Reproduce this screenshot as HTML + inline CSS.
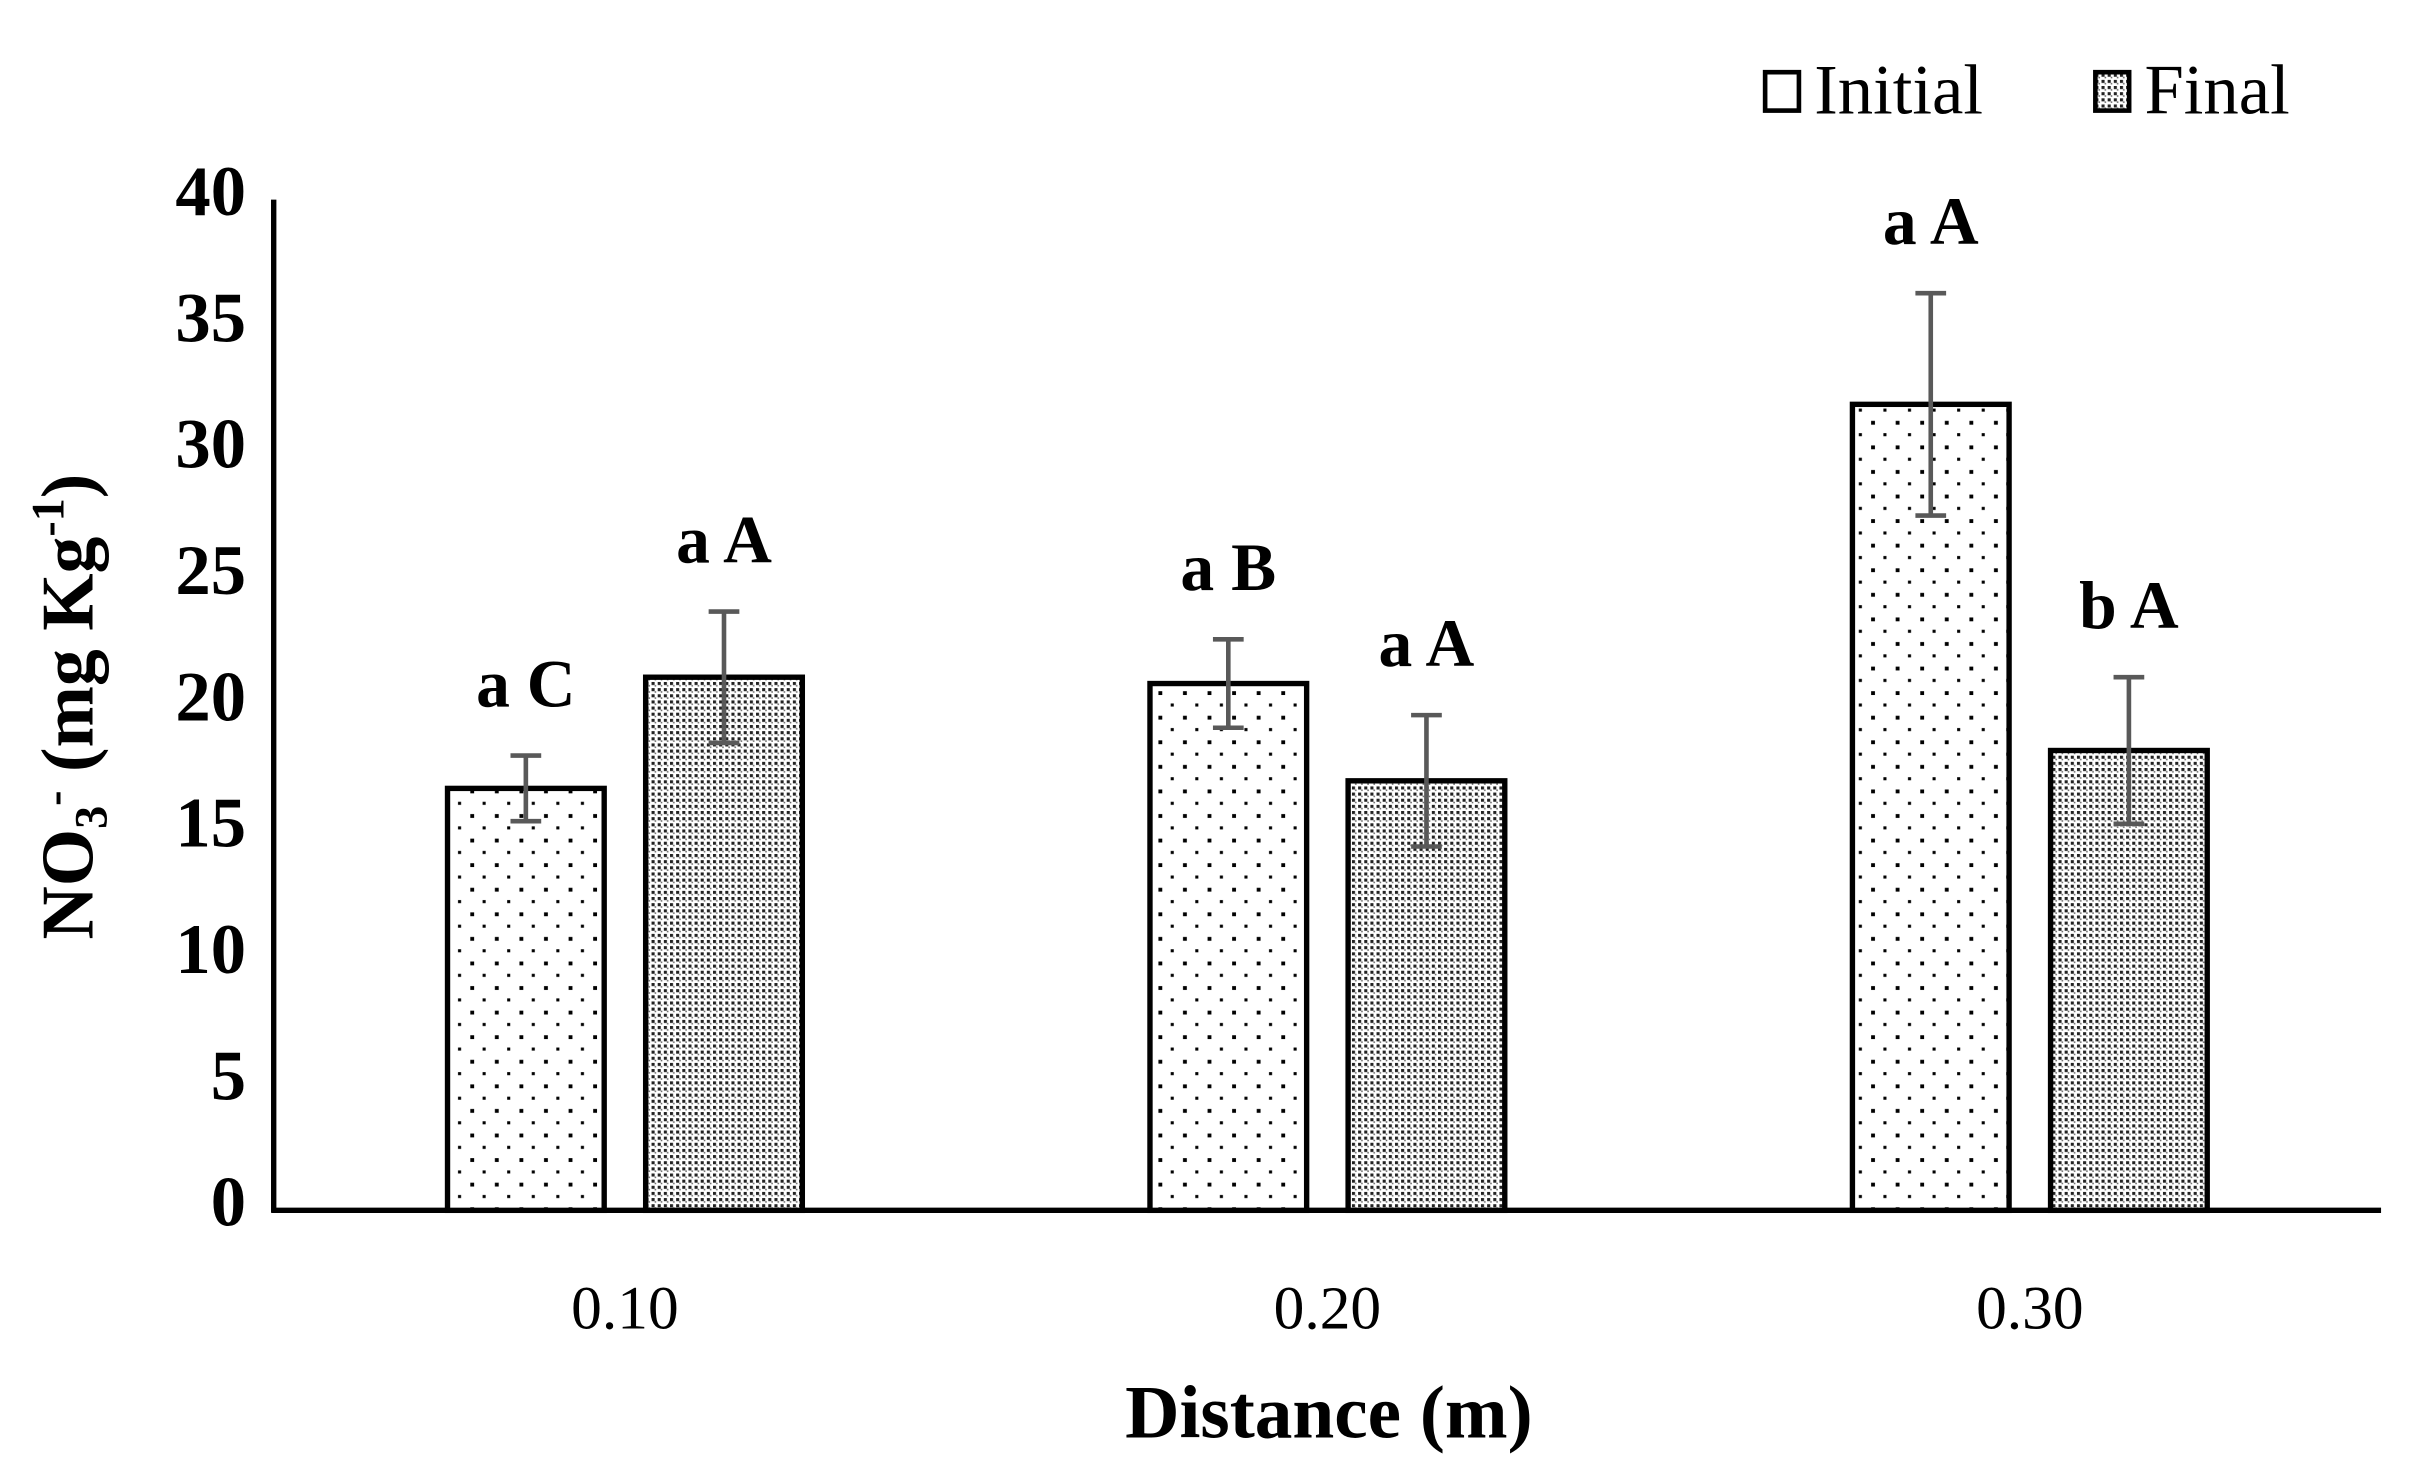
<!DOCTYPE html>
<html><head><meta charset="utf-8"><style>
html,body{margin:0;padding:0;background:#fff;}
svg{display:block;}
text{font-family:"Liberation Serif",serif;fill:#000;}
</style></head><body>
<svg id="chart" width="2409" height="1473" viewBox="0 0 1568 959" xmlns="http://www.w3.org/2000/svg">
<defs>
<pattern id="pInit" width="16" height="16" patternUnits="userSpaceOnUse">
<rect width="16" height="16" fill="#fff"/>
<rect x="2" y="2" width="2.5" height="2.5" fill="#000"/>
<rect x="10" y="10" width="2" height="2" fill="#000"/>
</pattern>
<pattern id="pFinal" width="4" height="4" patternUnits="userSpaceOnUse">
<rect width="4" height="4" fill="#fff"/>
<rect x="0" y="0" width="2" height="2" fill="#222"/>
<rect x="2" y="2" width="1" height="1" fill="#666"/>
</pattern>
</defs>
<g id="axes"></g>
<g id="bars"></g>
<text transform="translate(60,460) rotate(-90)" text-anchor="middle" font-size="48" font-weight="bold">NO<tspan font-size="30" dy="9">3</tspan><tspan font-size="30" dy="-24">-</tspan><tspan dy="15"> (mg Kg</tspan><tspan font-size="30" dy="-19">-1</tspan><tspan dy="19">)</tspan></text>
<text x="865" y="936" text-anchor="middle" font-size="49" font-weight="bold">Distance (m)</text>
<g>
<rect x="1149" y="47" width="22" height="25" fill="#fff" stroke="#000" stroke-width="3"/>
<text x="1181" y="74" font-size="46">Initial</text>
<rect x="1364" y="47" width="22" height="25" fill="url(#pFinal)" stroke="#000" stroke-width="3"/>
<text x="1396" y="74" font-size="46">Final</text>
</g>
</svg>
<script>
const categories = ["0.10","0.20","0.30"];
const initialValues = [16.7, 20.85, 31.9];
const finalValues = [21.1, 17.0, 18.2];
const initialErrors = [1.3, 1.75, 4.4];
const finalErrors = [2.6, 2.6, 2.9];
const initialLabels = ["a C","a B","a A"];
const finalLabels = ["a A","a A","b A"];
const yTicks = [0,5,10,15,20,25,30,35,40];

const NS="http://www.w3.org/2000/svg";
const X0=178, X1=1550, Y0=788, Ytop=130, YMAX=40;
const catW=(X1-X0)/categories.length;
function y(v){return Y0-(v/YMAX)*(Y0-Ytop);}
function xc(i){return X0+catW*(i+0.5);}
function mk(tag,attrs,parent){const e=document.createElementNS(NS,tag);for(const k in attrs)e.setAttribute(k,attrs[k]);parent.appendChild(e);return e;}
const axes=document.getElementById('axes'), bars=document.getElementById('bars');

yTicks.forEach(t=>{
  const e=mk('text',{x:160,y:y(t)+10,'text-anchor':'end','font-size':'46','font-weight':'bold'},axes);
  e.textContent=t;
  
  
});
categories.forEach((c,i)=>{
  const e=mk('text',{x:xc(i),y:865,'text-anchor':'middle','font-size':'40'},axes);
  e.textContent=c;
  
  
});

const BW=102, GAP=27;
function drawBar(i,val,err,lab,fill,offset,name){
  const cx=xc(i)+offset;
  const r=mk('rect',{x:cx-BW/2,y:y(val),width:BW,height:Y0-y(val),fill:fill,stroke:'#000','stroke-width':3.5},bars);
  
  
  const g=mk('g',{stroke:'#595959','stroke-width':3},bars);
  
  
  mk('line',{x1:cx,x2:cx,y1:y(val+err),y2:y(val-err)},g);
  mk('line',{x1:cx-10,x2:cx+10,y1:y(val+err),y2:y(val+err)},g);
  mk('line',{x1:cx-10,x2:cx+10,y1:y(val-err),y2:y(val-err)},g);
  const t=mk('text',{x:cx,y:y(val+err)-32,'text-anchor':'middle','font-size':'44','font-weight':'bold'},bars);
  t.textContent=lab;
  
  
}
categories.forEach((c,i)=>{
  drawBar(i,initialValues[i],initialErrors[i],initialLabels[i],'url(#pInit)',-(BW+GAP)/2,'initial');
  drawBar(i,finalValues[i],finalErrors[i],finalLabels[i],'url(#pFinal)',(BW+GAP)/2,'final');
});

const ya=mk('line',{x1:X0,x2:X0,y1:Ytop,y2:Y0+1.5,stroke:'#000','stroke-width':3.5},axes);


const xa=mk('line',{x1:X0-1.5,x2:X1,y1:Y0,y2:Y0,stroke:'#000','stroke-width':3.5},axes);


</script>
</body></html>
